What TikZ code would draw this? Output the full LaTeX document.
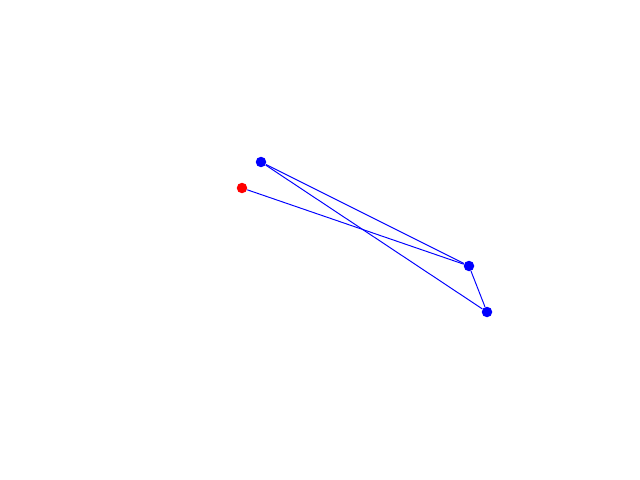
\documentclass[tikz,border=0pt]{standalone}
\usepackage{tikz}

\begin{document}
\begin{tikzpicture}[x=0.02cm,y=-0.02cm,
  pt/.style={circle,inner sep=0pt,minimum size=0.21cm},
  start/.style={pt,fill=red},
  visit/.style={pt,fill=blue},
  edge/.style={draw=blue,line width=0.55pt}]
\useasboundingbox (0,0) rectangle (640,480);
\node (p0) [start] at (242,188) {};
\node (p1) [visit] at (261,162) {};
\node (p2) [visit] at (469,266) {};
\node (p3) [visit] at (487,312) {};
%\draw[edge](p0)--(p1);
\draw [edge] (p0) -- (p2);
\draw [edge] (p1) -- (p2);
\draw [edge] (p1) -- (p3);
\draw [edge] (p2) -- (p3);
\end{tikzpicture}
\end{document}
